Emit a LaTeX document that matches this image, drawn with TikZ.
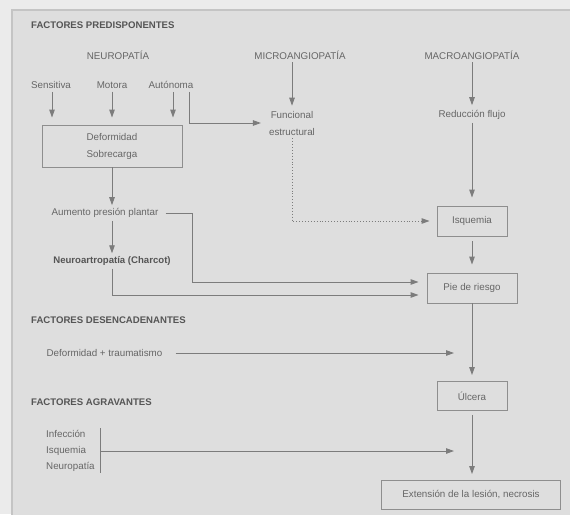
\documentclass[tikz,border=0pt]{standalone}
\usepackage{fontspec}
\setmainfont{Liberation Sans}
\usetikzlibrary{arrows.meta,calc}

\definecolor{outerbg}{HTML}{EBEBEB}
\definecolor{panel}{HTML}{DEDEDE}
\definecolor{framecol}{HTML}{C4C4C4}
\definecolor{txt}{HTML}{666666}
\definecolor{head}{HTML}{555555}
\definecolor{linecol}{HTML}{7C7C7C}
\definecolor{boxcol}{HTML}{8E8E8E}

\tikzset{
  lbl/.style={text=txt, font=\fontsize{9.8pt}{17pt}\selectfont, align=center, inner sep=3pt},
  heading/.style={text=head, font=\fontsize{9.6pt}{11pt}\selectfont\bfseries, anchor=west, inner sep=0pt},
  flowbox/.style={lbl, draw=boxcol, line width=0.9pt},
  arr/.style={draw=linecol, line width=0.9pt, -{Triangle[length=8pt,width=5.5pt]}},
  plain/.style={draw=linecol, line width=0.9pt},
}

\begin{document}
\begin{tikzpicture}[x=1pt, y=-1pt]
  \useasboundingbox (0,0) rectangle (570,514);
  % background and panel frame
  \fill[outerbg] (0,0) rectangle (570,514);
  \draw[framecol, fill=panel, line width=1.2pt] (12,10) rectangle (578,522);

  % section headings
  \node[heading] (hpre) at (31,25) {FACTORES PREDISPONENTES};
  \node[heading] (hdes) at (31,320) {FACTORES DESENCADENANTES};
  \node[heading] (hagr) at (31,402) {FACTORES AGRAVANTES};

  % predisposing factors
  \node[lbl] (neuro0) at (118,55) {NEUROPATÍA};
  \node[lbl] (micro) at (300,55) {MICROANGIOPATÍA};
  \node[lbl] (macro) at (472,55) {MACROANGIOPATÍA};

  \node[lbl] (sens) at (51,85) {Sensitiva};
  \node[lbl] (mot) at (112,85) {Motora};
  \node[lbl] (auto) at (171,85) {Autónoma};

  \node[flowbox, minimum width=140pt, minimum height=42pt] (def) at (112,146) {Deformidad\\Sobrecarga};
  \node[lbl] (func) at (292,123) {Funcional\\estructural};
  \node[lbl] (red) at (472,115) {Reducción flujo};

  \node[lbl] (aum) at (105,213) {Aumento presión plantar};
  \node[lbl, font=\fontsize{9.6pt}{11pt}\selectfont\bfseries, text=head] (charcot) at (112,261) {Neuroartropatía (Charcot)};

  \node[flowbox, minimum width=70pt, minimum height=30pt] (isq) at (472,221) {Isquemia};
  \node[flowbox, minimum width=90pt, minimum height=30pt] (pie) at (472,288) {Pie de riesgo};
  \node[flowbox, minimum width=70pt, minimum height=29pt] (ulc) at (472,396) {Úlcera};
  \node[flowbox, minimum width=179pt, minimum height=29pt] (ext) at (471,495) {Extensión de la lesión, necrosis};

  % triggering factor
  \node[lbl] (trau) at (104.5,353) {Deformidad + traumatismo};

  % aggravating factors
  \node[lbl, anchor=west, inner sep=0pt] (inf) at (46,434) {Infección};
  \node[lbl, anchor=west, inner sep=0pt] (isq2) at (46,451) {Isquemia};
  \node[lbl, anchor=west, inner sep=0pt] (neu2) at (46,467) {Neuropatía};

  % bend points
  \coordinate (k1) at (192,282);
  \coordinate (k2) at (112,295);
  \coordinate (b1) at (100,428);
  \coordinate (b2) at (100,473);

  % neuropathy branch
  \draw[arr, shorten >=7pt] ([xshift=1pt]sens.south) -- ([xshift=1pt]sens.south |- def.north);
  \draw[arr, shorten >=7pt] (mot.south) -- (mot.south |- def.north);
  \draw[arr, shorten >=7pt] ([xshift=2pt]auto.south) -- ([xshift=2pt]auto.south |- def.north);
  \draw[arr, shorten >=5pt] ([xshift=18pt]auto.south) |- (func.west);

  % microangiopathy branch
  \draw[arr, shorten >=2pt] (micro.south -| func.north) -- (func.north);
  \draw[arr, dotted, shorten >=7pt] (func.south) |- (isq.west);

  % macroangiopathy branch
  \draw[arr, shorten >=2pt] (macro.south) -- (red.north);
  \draw[arr, shorten >=8pt] (red.south) -- (isq.north);
  \draw[arr, shorten <=5pt, shorten >=8pt] (isq.south) -- (pie.north);

  % deformity chain
  \draw[arr] (def.south) -- (def.south |- aum.north);
  \draw[arr] (def.south |- aum.south) -- (charcot.north);
  \draw[arr, shorten >=8pt] ([xshift=4pt]aum.east) -| (k1) -- (k1 -| pie.west);
  \draw[arr, shorten >=8pt] (charcot.south) -- (k2) -- (k2 -| pie.west);

  % towards the ulcer
  \draw[arr, shorten >=6pt] (pie.south) -- (ulc.north);
  \draw[arr] ([xshift=10pt]trau.east) -- ($(trau -| ulc)+(-18,0)$);

  % aggravating factors to lesion extension
  \draw[plain] (b1) -- (b2);
  \draw[arr] (b1 |- isq2) -- ($(isq2 -| ulc)+(-18,0)$);
  \draw[arr, shorten <=4pt, shorten >=6pt] (ulc.south) -- (ulc.south |- ext.north);
\end{tikzpicture}
\end{document}
